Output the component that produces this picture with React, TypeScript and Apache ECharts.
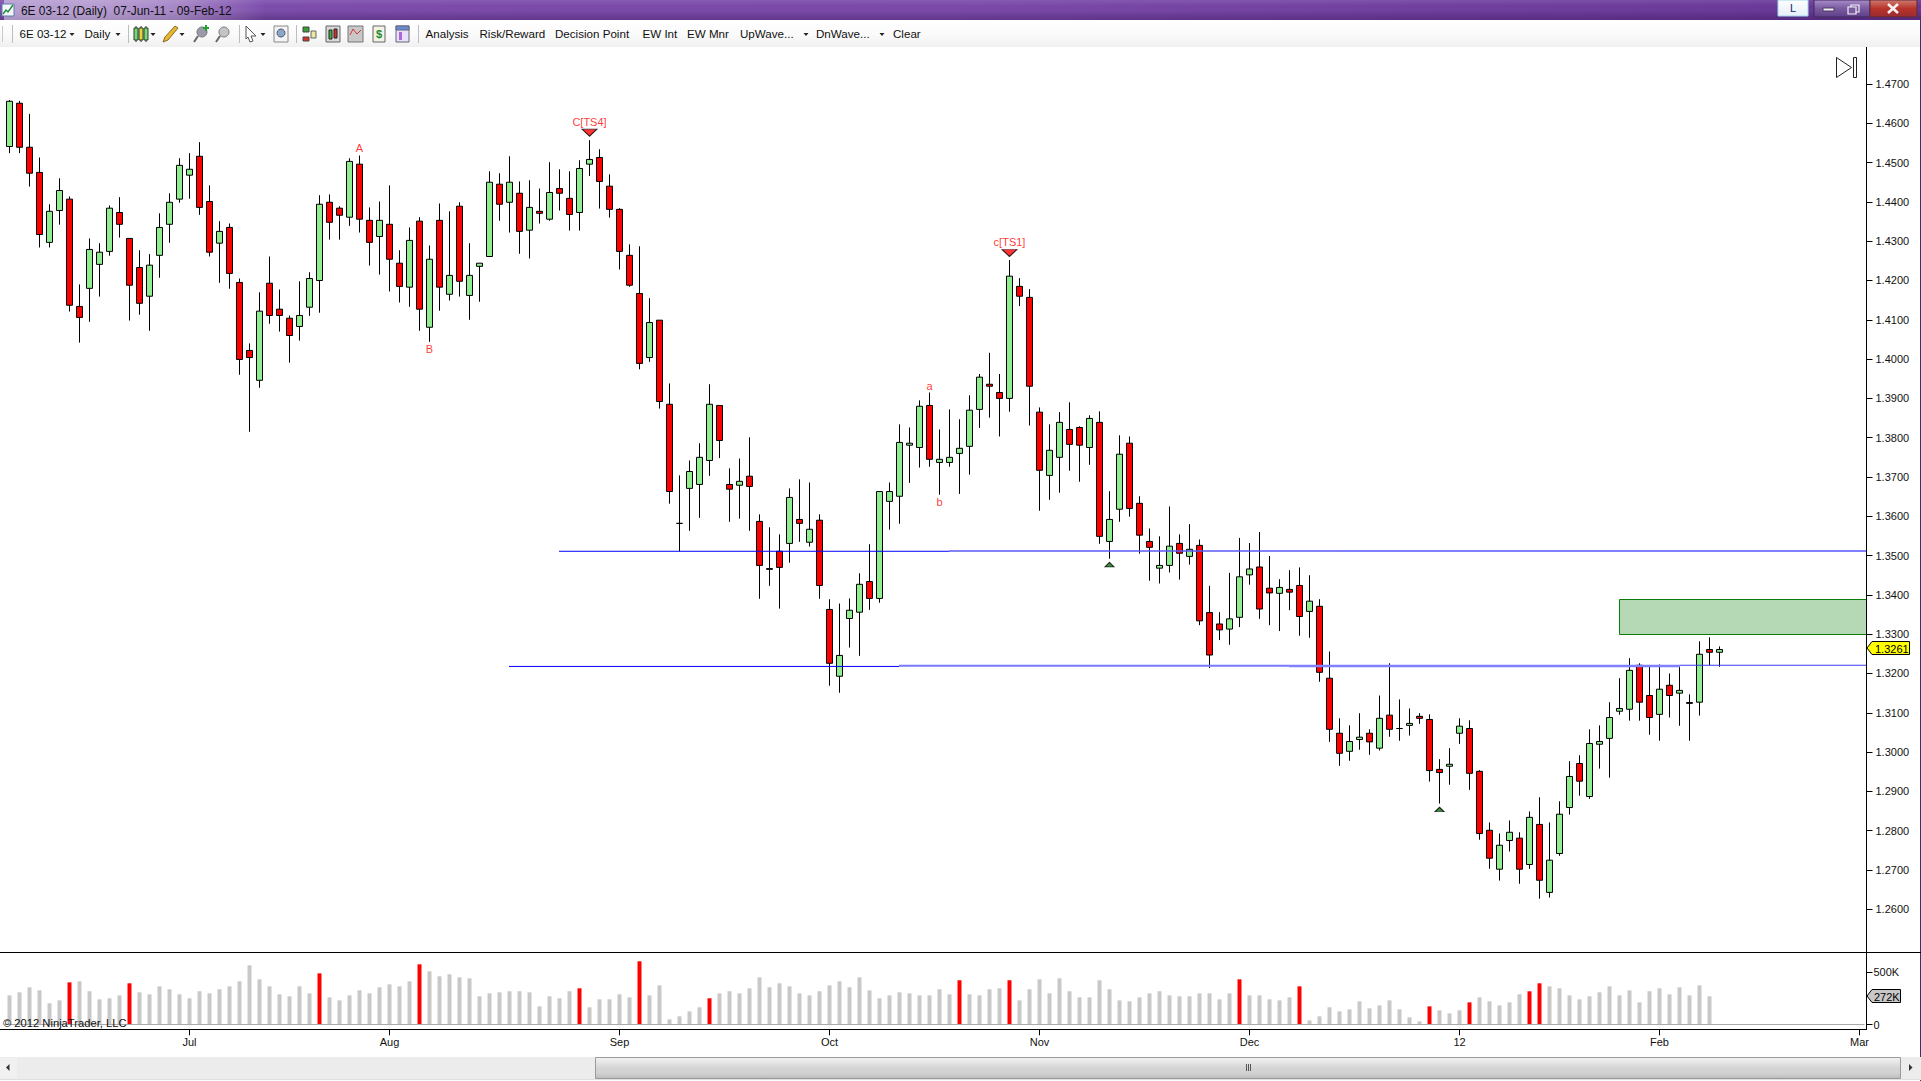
import React, { useEffect, useRef } from "react";
import * as echarts from "echarts";

// ---- data (prices per bar, bar 0 = 07-Jun-11) ----
const opens = [
  1.4541,1.4651,1.4539,1.4475,1.4297,1.4378,1.4407,1.4134,1.4180,1.4241,
  1.4274,1.4373,1.4307,1.4233,1.4160,1.4264,1.4343,1.4407,1.4468,1.4516,
  1.4401,1.4295,1.4335,1.4195,1.4022,1.3946,1.4193,1.4127,1.4104,1.4083,
  1.4132,1.4200,1.4399,1.4384,1.4361,1.4496,1.4353,1.4312,1.4343,1.4244,
  1.4183,1.4351,1.4081,1.4353,1.4165,1.4389,1.4162,1.4236,1.4261,1.4445,
  1.4399,1.4422,1.4328,1.4376,1.4356,1.4434,1.4409,1.4373,1.4496,1.4513,
  1.4440,1.4381,1.4264,1.4167,1.4004,1.4099,1.3885,1.3582,1.3671,1.3681,
  1.3742,1.3882,1.3681,1.3679,1.3702,1.3587,1.3467,1.3511,1.3531,1.3592,
  1.3534,1.3590,1.3363,1.3193,1.3340,1.3356,1.3434,1.3391,1.3638,1.3651,
  1.3781,1.3775,1.3882,1.3737,1.3737,1.3760,1.3778,1.3872,1.3936,1.3915,
  1.3900,1.4185,1.4157,1.3865,1.3704,1.3750,1.3821,1.3826,1.3775,1.3839,
  1.3536,1.3618,1.3786,1.3633,1.3536,1.3468,1.3475,1.3531,1.3498,1.3526,
  1.3355,1.3326,1.3313,1.3343,1.3451,1.3471,1.3417,1.3404,1.3414,1.3424,
  1.3358,1.3371,1.3188,1.3048,1.3002,1.3032,1.3048,1.3010,1.3094,1.3060,
  1.3068,1.3091,1.3083,1.2956,1.2964,1.3048,1.3060,1.2951,1.2801,1.2702,
  1.2775,1.2781,1.2714,1.2816,1.2643,1.2742,1.2859,1.2971,1.2887,1.3020,
  1.3035,1.3104,1.3109,1.3221,1.3144,1.3096,1.3170,1.3150,1.3126,1.3127,
  1.3261,1.3254,
];
const closes = [
  1.4656,1.4539,1.4473,1.4317,1.4376,1.4429,1.4137,1.4106,1.4279,1.4272,
  1.4384,1.4343,1.4188,1.4142,1.4239,1.4335,1.4399,1.4493,1.4483,1.4386,
  1.4272,1.4325,1.4218,1.3999,1.4004,1.4122,1.4111,1.4111,1.4060,1.4111,
  1.4205,1.4394,1.4348,1.4366,1.4503,1.4356,1.4297,1.4353,1.4254,1.4185,
  1.4302,1.4127,1.4254,1.4183,1.4213,1.4198,1.4213,1.4244,1.4450,1.4394,
  1.4450,1.4325,1.4386,1.4371,1.4424,1.4422,1.4368,1.4485,1.4508,1.4452,
  1.4381,1.4274,1.4188,1.3989,1.4093,1.3892,1.3663,1.3582,1.3714,1.3750,
  1.3885,1.3793,1.3669,1.3689,1.3676,1.3475,1.3465,1.3470,1.3648,1.3582,
  1.3567,1.3424,1.3226,1.3246,1.3361,1.3427,1.3391,1.3663,1.3663,1.3788,
  1.3786,1.3880,1.3745,1.3745,1.3750,1.3773,1.3870,1.3954,1.3931,1.3900,
  1.4211,1.4160,1.3931,1.3717,1.3768,1.3839,1.3783,1.3781,1.3849,1.3549,
  1.3592,1.3758,1.3620,1.3552,1.3521,1.3475,1.3524,1.3506,1.3516,1.3334,
  1.3247,1.3311,1.3339,1.3446,1.3466,1.3364,1.3405,1.3419,1.3407,1.3345,
  1.3384,1.3203,1.3058,1.2997,1.3027,1.3038,1.3026,1.3086,1.3058,1.3060,
  1.3073,1.3086,1.2953,1.2948,1.2969,1.3066,1.2946,1.2793,1.2730,1.2763,
  1.2796,1.2702,1.2834,1.2674,1.2725,1.2842,1.2938,1.2926,1.3022,1.3027,
  1.3088,1.3111,1.3208,1.3127,1.3088,1.3160,1.3144,1.3157,1.3124,1.3249,
  1.3254,1.3261,
];
const lows = [
  1.4524,1.4524,1.4439,1.4284,1.4284,1.4342,1.4121,1.4042,1.4095,1.4159,
  1.4263,1.4309,1.4098,1.4113,1.4072,1.4207,1.4296,1.4398,1.4408,1.4367,
  1.4261,1.4194,1.4179,1.3960,1.3815,1.3927,1.4090,1.4070,1.3991,1.4047,
  1.4110,1.4118,1.4304,1.4304,1.4339,1.4322,1.4238,1.4215,1.4172,1.4144,
  1.4133,1.4072,1.4044,1.4123,1.4149,1.4159,1.4100,1.4146,1.4261,1.4352,
  1.4322,1.4268,1.4256,1.4345,1.4352,1.4378,1.4327,1.4327,1.4466,1.4383,
  1.4360,1.4228,1.4184,1.3974,1.3993,1.3874,1.3632,1.3511,1.3563,1.3596,
  1.3703,1.3748,1.3586,1.3594,1.3563,1.3390,1.3423,1.3365,1.3482,1.3535,
  1.3523,1.3390,1.3169,1.3151,1.3266,1.3245,1.3362,1.3380,1.3566,1.3581,
  1.3685,1.3724,1.3726,1.3655,1.3726,1.3657,1.3706,1.3825,1.3851,1.3803,
  1.3866,1.4135,1.3831,1.3614,1.3642,1.3660,1.3716,1.3688,1.3731,1.3530,
  1.3492,1.3586,1.3599,1.3505,1.3436,1.3429,1.3457,1.3439,1.3477,1.3323,
  1.3214,1.3285,1.3273,1.3318,1.3426,1.3339,1.3323,1.3308,1.3361,1.3296,
  1.3291,1.3179,1.3026,1.2965,1.2978,1.3006,1.2993,1.3004,1.3039,1.3029,
  1.3042,1.3072,1.2925,1.2869,1.2917,1.3021,1.2904,1.2777,1.2703,1.2673,
  1.2747,1.2665,1.2703,1.2627,1.2630,1.2736,1.2841,1.2889,1.2881,1.2958,
  1.2935,1.3095,1.3080,1.3080,1.3044,1.3029,1.3088,1.3067,1.3029,1.3093,
  1.3221,1.3217,
];
const highs = [
  1.4659,1.4657,1.4624,1.4513,1.4394,1.4460,1.4414,1.4190,1.4307,1.4295,
  1.4391,1.4412,1.4307,1.4277,1.4267,1.4371,1.4422,1.4511,1.4524,1.4552,
  1.4442,1.4351,1.4345,1.4205,1.4040,1.4170,1.4261,1.4177,1.4111,1.4198,
  1.4221,1.4417,1.4419,1.4389,1.4511,1.4518,1.4386,1.4401,1.4442,1.4277,
  1.4335,1.4361,1.4289,1.4396,1.4376,1.4399,1.4295,1.4244,1.4478,1.4473,
  1.4516,1.4452,1.4455,1.4434,1.4501,1.4483,1.4478,1.4506,1.4557,1.4534,
  1.4470,1.4384,1.4292,1.4287,1.4155,1.4099,1.3938,1.3704,1.3742,1.3786,
  1.3936,1.3882,1.3722,1.3747,1.3801,1.3605,1.3572,1.3554,1.3671,1.3694,
  1.3686,1.3605,1.3389,1.3378,1.3391,1.3455,1.3529,1.3663,1.3686,1.3834,
  1.3826,1.3895,1.3915,1.3821,1.3872,1.3847,1.3908,1.3962,1.4016,1.3962,
  1.4252,1.4206,1.4178,1.3877,1.3834,1.3865,1.3890,1.3829,1.3857,1.3867,
  1.3664,1.3806,1.3803,1.3651,1.3569,1.3549,1.3625,1.3554,1.3580,1.3541,
  1.3423,1.3356,1.3456,1.3545,1.3532,1.3560,1.3499,1.3440,1.3463,1.3470,
  1.3450,1.3389,1.3256,1.3086,1.3068,1.3099,1.3058,1.3144,1.3226,1.3134,
  1.3111,1.3099,1.3096,1.2982,1.3010,1.3086,1.3081,1.2954,1.2821,1.2793,
  1.2826,1.2796,1.2849,1.2885,1.2821,1.2875,1.2977,1.2992,1.3058,1.3068,
  1.3127,1.3188,1.3239,1.3226,1.3218,1.3223,1.3200,1.3218,1.3147,1.3282,
  1.3292,1.3269,
];
// volume in thousands of contracts
const volumes = [
  280,309,357,328,204,232,404,414,319,242,
  252,280,395,309,290,366,338,290,252,319,
  299,338,366,414,567,433,366,290,271,366,
  299,490,261,232,280,328,299,357,385,366,
  414,576,510,462,481,452,443,271,299,309,
  319,319,309,175,271,252,319,347,166,242,
  242,290,261,605,280,376,51,80,127,166,
  252,299,319,299,347,452,357,395,366,299,
  280,319,376,414,357,452,328,252,280,309,
  299,280,280,338,290,424,290,280,338,347,
  424,232,338,433,299,443,319,261,261,424,
  338,232,223,261,299,319,280,271,271,299,
  299,242,299,433,280,280,242,232,261,366,
  41,80,166,127,147,223,156,185,232,147,
  70,32,175,137,108,137,213,261,223,185,
  213,290,319,395,366,347,280,242,271,309,
  366,280,328,213,319,347,290,357,280,376,
  271,
];
const redVolumeBars = [6, 12, 31, 41, 57, 63, 70, 95, 100, 123, 129, 142, 146, 152, 153];

const slotCount = 186;
const tickBars = [18, 38, 61, 82, 103, 124, 145, 165, 185];
const tickLabels = ["Jul", "Aug", "Sep", "Oct", "Nov", "Dec", "12", "Feb", "Mar"];
const priceTicks = [1.26,1.27,1.28,1.29,1.30,1.31,1.32,1.33,1.34,1.35,1.36,1.37,1.38,1.39,1.40,1.41,1.42,1.43,1.44,1.45,1.46,1.47];
const volumeTicks = [0, 500];

const noteBars = [35, 42, 58, 92, 93, 100];
const notePrices = [1.4537, 1.4026, 1.4603, 1.3932, 1.3636, 1.4298];
const noteTexts = ["A", "B", "C[TS4]", "a", "b", "c[TS1]"];
const downArrowBars = [58, 100];
const downArrowPrices = [1.4576, 1.4270];
const upArrowBars = [110, 143];
const upArrowPrices = [1.3477, 1.2854];

// start bar, end bar, price of the horizontal levels
const levelStarts = [54.95, 93.95, 132.95, 49.95, 88.95, 127.95, 167.05];
const levelEnds = [93.95, 132.95, 185.65, 88.95, 127.95, 167.05, 185.65];
const levelPrices = [1.3511, 1.3512, 1.3512, 1.3218, 1.3220, 1.3219, 1.3221];
const levelColors = ["#0000ff", "#5a5af5", "#8080ff", "#0000ff", "#7a7aff", "#8080ff", "#3c3cf0"];
const levelWidths = [1, 1.5, 2, 1, 2, 2.5, 1.2];
const zoneBox = [160.98, 1.3389, 185.65, 1.33];

const lastPrice = "1.3261";
const lastVolume = "272K";
const titleText = "6E 03-12 (Daily)  07-Jun-11 - 09-Feb-12";
const toolbarTexts: [string, number][] = [
  ["6E 03-12", 19.5], ["Daily", 84.5], ["Analysis", 425.5], ["Risk/Reward", 479.5],
  ["Decision Point", 555], ["EW Int", 642.5], ["EW Mnr", 687], ["UpWave...", 740], ["DnWave...", 816], ["Clear", 893],
];
const toolbarArrows = [72, 118, 153, 182, 263, 806, 882];
const toolbarSeparators = [128, 239, 296, 418];

const FONT = '"Liberation Sans", Arial, sans-serif';

function chrome(): any[] {
  const z = 50;
  const rect = (x: number, y: number, w: number, h: number, fill: any, stroke?: string, lw = 1, zz = z) => ({
    type: "rect", silent: true, z: zz, shape: { x, y, width: w, height: h }, style: { fill, stroke, lineWidth: lw },
  });
  const line = (x1: number, y1: number, x2: number, y2: number, stroke: string, lw = 1, zz = z) => ({
    type: "line", silent: true, z: zz, shape: { x1, y1, x2, y2 }, style: { stroke, lineWidth: lw },
  });
  const poly = (points: number[][], fill: any, stroke?: string, zz = z) => ({
    type: "polygon", silent: true, z: zz, shape: { points }, style: { fill, stroke, lineWidth: 1 },
  });
  const text = (t: string, x: number, y: number, font: string, fill = "#111", align = "left", zz = z + 2) => ({
    type: "text", silent: true, z: zz, style: { text: t, x, y, font, fill, align, verticalAlign: "middle" },
  });
  const v = (stops: string[]) => ({
    type: "linear", x: 0, y: 0, x2: 0, y2: 1,
    colorStops: stops.map((color, i) => ({ offset: i / (stops.length - 1), color })),
  });
  const h = (stops: string[]) => ({
    type: "linear", x: 0, y: 0, x2: 1, y2: 0,
    colorStops: stops.map((color, i) => ({ offset: i / (stops.length - 1), color })),
  });
  const out: any[] = [];
  // title bar
  out.push(rect(0, 0, 1921, 20, h(["#7c4fae", "#7b49aa", "#7a48a9", "#6f3e9e", "#663596"])));
  out.push(rect(0, 0, 1921, 20, v(["rgba(255,255,255,0.10)", "rgba(255,255,255,0)", "rgba(0,0,0,0.06)", "rgba(40,10,70,0.28)"])));
  out.push(rect(4, 0, 262, 20, h(["rgba(255,255,255,0.45)", "rgba(255,255,255,0.45)", "rgba(255,255,255,0.32)", "rgba(255,255,255,0)"])));
  out.push(rect(2, 4, 12, 12, "#f4f6fb", "#5a7ea8"));
  out.push({ type: "polyline", silent: true, z: z + 1, shape: { points: [[3, 14], [6, 10], [8, 12], [13, 5]] }, style: { fill: "none", stroke: "#1f8a3a", lineWidth: 1.4 } });
  out.push(text(titleText, 21, 11, `11.9px ${FONT}`, "#101010"));
  // caption buttons
  out.push(rect(1778, 0, 30, 16, v(["#fdfdff", "#e6f0f7"]), "#9fd8ea"));
  out.push(text("L", 1793, 8, `11px ${FONT}`, "#10206a", "center"));
  out.push(rect(1814, 0, 56, 17, v(["#a88cc8", "#7a5aa0", "#5f3f88"]), "#3f2a5a"));
  out.push(rect(1870, 0, 47, 17, v(["#cf7a70", "#b8342a", "#9a2a30"]), "#5a2a3a"));
  out.push(rect(1823, 8, 11, 3, "#f0f0f5", "#4a3a60"));
  out.push(rect(1851, 5, 8, 7, "none", "#f0f0f5", 1.2));
  out.push(rect(1848, 7, 8, 7, "#7a5aa0", "#f0f0f5", 1.2));
  out.push(line(1888, 4, 1898, 13, "#f6f0f0", 2.6));
  out.push(line(1898, 4, 1888, 13, "#f6f0f0", 2.6));
  // toolbar
  out.push(rect(0, 20, 1921, 27, v(["#ffffff", "#fbfbfb", "#f0f0f0"])));
  out.push(line(2.5, 26, 2.5, 42, "#c9c9c9"));
  toolbarSeparators.concat([12]).forEach((x) => out.push(line(x + 0.5, 25, x + 0.5, 43, "#bdbdbd")));
  toolbarTexts.forEach(([t, x]) => out.push(text(t, x, 33.5, `11.6px ${FONT}`, "#101010")));
  toolbarArrows.forEach((x) => out.push(poly([[x - 2.5, 33], [x + 2.5, 33], [x, 36]], "#222")));
  // toolbar icons
  [[134, "#7ed47e"], [139, "#e8d040"], [144, "#7ed47e"]].forEach(([x, c]: any) => {
    out.push(line(x + 2, 26, x + 2, 42, "#222"));
    out.push(rect(x, 28, 4, 12, c, "#224422"));
  });
  out.push(poly([[163, 42], [165, 37], [175, 26], [178, 28], [168, 40]], "#e8b830", "#8a6a20"));
  [[193, "#9a9aa8"], [215, "#c4c4c8"]].forEach(([x, c]: any) => {
    out.push({ type: "circle", silent: true, z, shape: { cx: x + 9, cy: 32, r: 5 }, style: { fill: c, stroke: "#777" } });
    out.push(line(x + 5, 36, x + 1, 42, "#666", 2));
  });
  out.push(line(206, 25, 206, 31, "#22a030", 2));
  out.push(line(203, 28, 209, 28, "#22a030", 2));
  out.push(poly([[246, 26], [256, 36], [251, 36], [253, 41], [250, 42], [248, 37], [246, 39]], "#ffffff", "#555"));
  out.push(rect(274, 26, 14, 16, "#f4f4f4", "#888"));
  out.push({ type: "circle", silent: true, z, shape: { cx: 281, cy: 33, r: 4 }, style: { fill: "#8aa8c8", stroke: "#557" } });
  out.push(rect(303, 27, 6, 5, "#36a036", "#444"));
  out.push(rect(303, 37, 6, 4, "#d83030", "#444"));
  out.push(rect(311, 31, 5, 7, "#e8e8a0", "#666"));
  out.push(rect(326, 26, 14, 16, "#d8d8d8", "#666"));
  out.push(rect(329, 30, 3, 9, "#40b040", "#222"));
  out.push(rect(334, 29, 3, 9, "#d83030", "#222"));
  out.push(rect(348, 26, 15, 16, "#c8c8c8", "#777"));
  out.push({ type: "polyline", silent: true, z: z + 1, shape: { points: [[350, 35], [353, 29], [357, 34], [361, 30]] }, style: { fill: "none", stroke: "#d83030", lineWidth: 1 } });
  out.push(rect(373, 26, 12, 16, "#f2f2e6", "#666"));
  out.push(text("$", 379, 34, `bold 11px ${FONT}`, "#1a8a2a", "center"));
  out.push(rect(396, 26, 13, 16, "#e8e0f8", "#667"));
  out.push(rect(396, 26, 13, 4, "#6a8ad8", "#667"));
  out.push(rect(399, 32, 3, 8, "#a868d8"));
  // right frame
  out.push(line(1920.5, 17, 1920.5, 1081, "#43306a", 1));
  // chart frame
  out.push(line(0, 952.5, 1921, 952.5, "#000", 1));
  out.push(line(0, 1029.5, 1866, 1029.5, "#000", 1));
  out.push(line(1866.5, 47, 1866.5, 1030, "#000", 1));
  // end-of-chart icon
  out.push(poly([[1836.5, 57.5], [1836.5, 77.5], [1851.5, 67.5]], "#fff", "#222"));
  out.push(rect(1853.5, 57.5, 3, 20, "#fff", "#222"));
  // last value tags
  out.push(poly([[1867, 648], [1872, 641.5], [1909.5, 641.5], [1909.5, 654.5], [1872, 654.5]], "#ffff00", "#000"));
  out.push(text(lastPrice, 1875, 648.5, `11px ${FONT}`, "#000"));
  out.push(poly([[1867, 996], [1872, 989.5], [1900.5, 989.5], [1900.5, 1002.5], [1872, 1002.5]], "#c8c8c8", "#000"));
  out.push(text(lastVolume, 1874, 996.5, `11px ${FONT}`, "#000"));
  out.push(text("© 2012 NinjaTrader, LLC", 3, 1023, `11.2px ${FONT}`, "#111"));
  // scrollbar
  out.push(rect(0, 1057, 1921, 22, "#ececec"));
  out.push(line(0, 1079.5, 1921, 1079.5, "#e0e0e0"));
  out.push(rect(0, 1058, 17, 20, "#f1f1f1"));
  out.push(poly([[9.5, 1064], [9.5, 1071], [6, 1067.5]], "#333"));
  out.push(poly([[1909, 1064], [1909, 1071], [1912.5, 1067.5]], "#333"));
  out.push(rect(595.5, 1057.5, 1305, 21, v(["#f2f2f2", "#e4e4e4", "#d4d4d4", "#d2d2d2", "#bcbcbc"]), "#9a9a9a"));
  [1246.5, 1248.5, 1250.5].forEach((x) => out.push(line(x, 1064, x, 1071, "#555")));
  return out;
}

export default function App() {
  const ref = useRef<HTMLDivElement>(null);
  useEffect(() => {
    if (!ref.current) return;
    const chart = echarts.init(ref.current, undefined, { renderer: "svg" });
    const categories = Array.from({ length: slotCount }, (_, i) => {
      const k = tickBars.indexOf(i);
      return k >= 0 ? tickLabels[k] : "";
    });
    const candles = opens.map((o, i) => [o, closes[i], lows[i], highs[i]]);
    const isTick = (i: number) => tickBars.includes(i);
    const labelStyle = { fontFamily: FONT, fontSize: 11, color: "#111" };
    chart.setOption({
      animation: false,
      backgroundColor: "#ffffff",
      graphic: { elements: chrome() },
      grid: [
        { left: 4.5, width: 1860, top: 47, height: 905.3, containLabel: false },
        { left: 4.5, width: 1860, top: 952.3, height: 77, containLabel: false },
      ],
      xAxis: [
        { type: "category", gridIndex: 0, data: categories, axisLine: { show: false, onZero: false }, axisTick: { show: false }, axisLabel: { show: false }, splitLine: { show: false } },
        { type: "value", gridIndex: 0, min: -0.5, max: 185.5, show: false, axisLine: { onZero: false }, splitLine: { show: false } },
        {
          type: "category", gridIndex: 1, data: categories, axisLine: { show: false, onZero: false },
          axisTick: { show: true, alignWithLabel: true, interval: (i: number) => isTick(i), length: 6, lineStyle: { color: "#000" } },
          axisLabel: { ...labelStyle, interval: (i: number) => isTick(i), margin: 7 },
          splitLine: { show: false },
        },
      ],
      yAxis: [
        {
          type: "value", gridIndex: 0, position: "right", offset: 2, min: 1.24906, max: 1.47941, scale: true,
          axisLine: { show: false, onZero: false }, splitLine: { show: false },
          axisTick: { show: true, customValues: priceTicks, length: 6, lineStyle: { color: "#000" } },
          axisLabel: { ...labelStyle, customValues: priceTicks, margin: 9, formatter: (v: number) => v.toFixed(4) },
        },
        {
          type: "value", gridIndex: 1, position: "right", offset: 2, min: -43.9, max: 690.8,
          axisLine: { show: false, onZero: false }, splitLine: { show: false },
          axisTick: { show: true, customValues: volumeTicks, length: 6, lineStyle: { color: "#000" } },
          axisLabel: { ...labelStyle, customValues: volumeTicks, margin: 7, formatter: (v: number) => (v === 0 ? "0" : `${v}K`) },
        },
      ],
      series: [
        {
          type: "custom", name: "zone", xAxisIndex: 1, yAxisIndex: 0, clip: false, z: 1, silent: true,
          data: [zoneBox],
          encode: { x: [0, 2], y: [1, 3] },
          renderItem: (_: any, api: any) => {
            const a = api.coord([api.value(0), api.value(1)]);
            const b = api.coord([api.value(2), api.value(3)]);
            return {
              type: "rect",
              shape: { x: Math.round(a[0]) + 0.5, y: Math.round(a[1]) + 0.5, width: Math.round(b[0] - a[0]), height: Math.round(b[1] - a[1]) },
              style: { fill: "#B4D9B4", stroke: "#0A7A0A", lineWidth: 1 },
            };
          },
        },
        {
          type: "candlestick", name: "6E 03-12", xAxisIndex: 0, yAxisIndex: 0, barWidth: 6, z: 2, silent: true,
          data: candles,
          itemStyle: { color: "#90EE90", color0: "#FF0000", borderColor: "#000000", borderColor0: "#000000", borderWidth: 1 },
        },
        ...levelPrices.map((p, i) => ({
          type: "line", xAxisIndex: 1, yAxisIndex: 0, clip: false, z: 3, silent: true, symbol: "none",
          data: [[levelStarts[i], p], [levelEnds[i], p]],
          lineStyle: { color: levelColors[i], width: levelWidths[i] },
        })),
        {
          type: "scatter", name: "notes", xAxisIndex: 0, yAxisIndex: 0, z: 4, silent: true, symbolSize: 1,
          data: noteBars.map((b, i) => [b, notePrices[i]]),
          itemStyle: { color: "transparent" },
          label: { show: true, position: "inside", formatter: (p: any) => noteTexts[p.dataIndex], fontFamily: FONT, fontSize: 11, color: "#ff0000" },
        },
        {
          type: "scatter", name: "down", xAxisIndex: 0, yAxisIndex: 0, z: 4, silent: true,
          symbol: "triangle", symbolRotate: 180, symbolSize: [15, 7],
          data: downArrowBars.map((b, i) => [b, downArrowPrices[i]]),
          itemStyle: { color: "#ff0000", borderColor: "#000", borderWidth: 1 },
        },
        {
          type: "scatter", name: "up", xAxisIndex: 0, yAxisIndex: 0, z: 4, silent: true,
          symbol: "triangle", symbolSize: [9, 4.5],
          data: upArrowBars.map((b, i) => [b, upArrowPrices[i]]),
          itemStyle: { color: "#0a7a0a", borderColor: "#000", borderWidth: 1 },
        },
        {
          type: "bar", name: "Volume", xAxisIndex: 2, yAxisIndex: 1, barWidth: 4, z: 2, silent: true,
          data: volumes,
          itemStyle: { color: (p: any) => (redVolumeBars.includes(p.dataIndex) ? "#FF0000" : "#C8C8C8") },
          markLine: {
            silent: true, symbol: "none", animation: false, label: { show: false },
            lineStyle: { color: "#aaaaaa", width: 1, type: "solid" }, data: [{ yAxis: 0 }],
          },
        },
      ],
    });
    return () => chart.dispose();
  }, []);
  return <div ref={ref} style={{ position: "absolute", left: 0, top: 0, width: 1921, height: 1081, overflow: "hidden" }} />;
}
